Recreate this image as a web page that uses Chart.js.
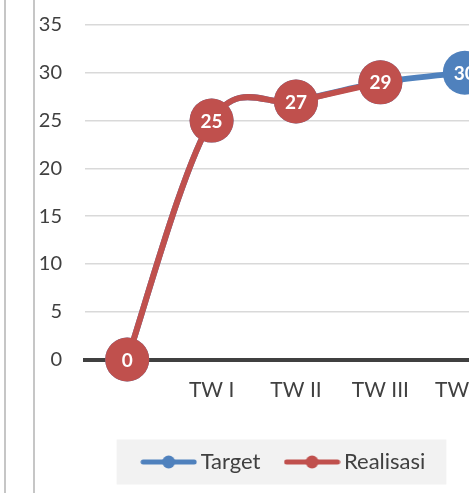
<!DOCTYPE html>
<html>
<head>
<meta charset="utf-8">
<script src="https://cdn.jsdelivr.net/npm/chart.js@4"></script>
<style>
  html, body { margin: 0; padding: 0; background: #fff; overflow: hidden; }
  #wrap { position: relative; width: 469px; height: 493px; overflow: hidden; }
  .vline { position: absolute; top: 0; bottom: 0; width: 2px; background: #c6c6c6; }
  canvas { position: absolute; left: 0; top: 0; }
</style>
</head>
<body>
<div id="wrap">
  <div class="vline" style="left:4px"></div>
  <div class="vline" style="left:33px"></div>
  <canvas id="myChart" width="529" height="493"></canvas>
</div>
<script>
const categories = ['', 'TW I', 'TW II', 'TW III', 'TW IV'];
const target = [0, 25, 27, 29, 30];
const realisasi = [0, 25, 27, 29, null];

const BLUE = '#4f81bd';
const RED = '#c0504d';
const FONT = 'Lato, "Open Sans", sans-serif';
const LEGEND_SHIFT = 22;

// simbolo de la leyenda: linea con punto
function legendSymbol(color) {
  const c = document.createElement('canvas');
  c.width = 57; c.height = 14;
  const g = c.getContext('2d');
  g.strokeStyle = color; g.lineWidth = 5; g.lineCap = 'round';
  g.beginPath(); g.moveTo(3, 7); g.lineTo(54, 7); g.stroke();
  g.fillStyle = color;
  g.beginPath(); g.arc(28.5, 7, 6.5, 0, Math.PI * 2); g.fill();
  return c;
}
const symbols = { Target: legendSymbol(BLUE), Realisasi: legendSymbol(RED) };

// suavizado tipo Excel (Catmull-Rom uniforme)
const excelSmooth = {
  id: 'excelSmooth',
  beforeDatasetDraw(chart, args) {
    const line = args.meta.dataset;
    line.updateControlPoints(chart.chartArea, 'x');
    const pts = args.meta.data.filter(p => !p.skip);
    pts.forEach((p, i) => {
      const prev = pts[i - 1] || p;
      const next = pts[i + 1] || p;
      const dx = (next.x - prev.x) / 6, dy = (next.y - prev.y) / 6;
      p.cp1x = p.x - dx; p.cp1y = p.y - dy;
      p.cp2x = p.x + dx; p.cp2y = p.y + dy;
    });
    line._path = undefined;
  }
};

const pointLabels = {
  id: 'pointLabels',
  afterDatasetDraw(chart, args) {
    const ctx = chart.ctx;
    const ds = chart.data.datasets[args.index];
    ctx.save();
    ctx.fillStyle = '#fff';
    ctx.font = 'bold 19px ' + FONT;
    ctx.textAlign = 'center';
    ctx.textBaseline = 'middle';
    args.meta.data.forEach((pt, i) => {
      const v = ds.data[i];
      if (v === null || v === undefined) return;
      ctx.fillText(String(v), pt.x, pt.y + 1);
    });
    ctx.restore();
  }
};

const legendBox = {
  id: 'legendBox',
  afterLayout(chart) {
    chart.legend.left += LEGEND_SHIFT;
    chart.legend.right += LEGEND_SHIFT;
  },
  beforeDraw(chart) {
    const hb = chart.legend.legendHitBoxes;
    if (!hb || !hb.length) return;
    const first = hb[0], last = hb[hb.length - 1];
    const cy = first.top + first.height / 2;
    const ctx = chart.ctx;
    ctx.save();
    ctx.fillStyle = '#f2f2f2';
    ctx.fillRect(first.left - 31, cy - 22.5, last.left + last.width + 21 - (first.left - 31), 45);
    ctx.restore();
  }
};

const ctx = document.getElementById('myChart');
const myChart = new Chart(ctx, {
  type: 'line',
  data: {
    labels: categories,
    datasets: [
      {
        label: 'Realisasi',
        data: realisasi,
        borderColor: RED,
        backgroundColor: RED,
        borderWidth: 6,
        pointRadius: 22,
        pointHoverRadius: 22,
        pointBorderWidth: 0,
        tension: 0.4,
        clip: false
      },
      {
        label: 'Target',
        data: target,
        borderColor: BLUE,
        backgroundColor: BLUE,
        borderWidth: 6,
        pointRadius: 22,
        pointHoverRadius: 22,
        pointBorderWidth: 0,
        tension: 0.4,
        clip: false
      }
    ]
  },
  options: {
    responsive: false,
    animation: false,
    layout: { padding: { left: 0, top: 25, right: 0, bottom: 10 } },
    scales: {
      x: {
        offset: true,
        grid: { display: false, drawTicks: false },
        border: { display: true, color: '#404040', width: 4 },
        ticks: { color: '#404040', font: { family: FONT, size: 21 }, padding: 18 },
        afterFit(scale) { scale.height = 61; }
      },
      y: {
        min: 0,
        max: 35,
        ticks: { stepSize: 5, color: '#404040', font: { family: FONT, size: 20 }, padding: 0 },
        grid: { color: '#d9d9d9', lineWidth: 1.5, drawTicks: true, tickLength: 23, tickColor: 'rgba(0,0,0,0)' },
        border: { display: false },
        afterFit(scale) { scale.width = 85; }
      }
    },
    plugins: {
      tooltip: { enabled: false },
      legend: {
        position: 'bottom',
        reverse: true,
        labels: {
          usePointStyle: true,
          pointStyleWidth: 42,
          padding: 30.5,
          color: '#404040',
          font: { family: FONT, size: 22 },
          generateLabels(chart) {
            return chart.data.datasets.map((d, i) => ({
              text: d.label,
              pointStyle: symbols[d.label],
              fillStyle: d.borderColor,
              strokeStyle: d.borderColor,
              lineWidth: 0,
              fontColor: '#404040',
              datasetIndex: i,
              hidden: false
            }));
          }
        }
      }
    }
  },
  plugins: [legendBox, excelSmooth, pointLabels]
});
</script>
</body>
</html>
